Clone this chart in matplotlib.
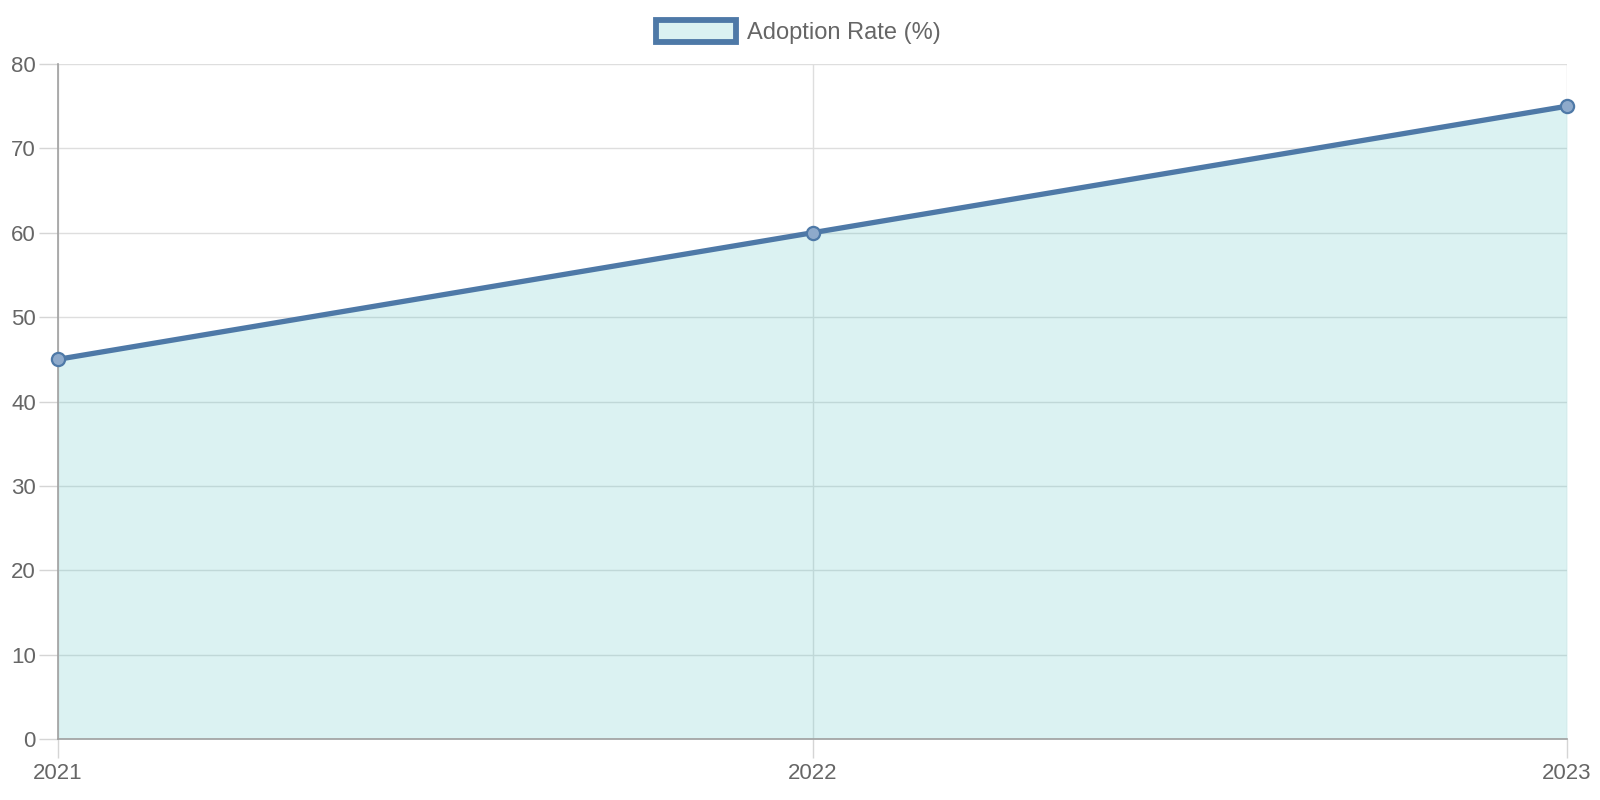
import numpy as np
import matplotlib.pyplot as plt
from matplotlib.patches import Patch

# data
years = ["2021", "2022", "2023"]
adoption = [45, 60, 75]
y_ticks = [0, 10, 20, 30, 40, 50, 60, 70, 80]

line_col = "#4e79a7"
fill_rgba = (75/255, 192/255, 192/255, 0.2)
grid_col = "#dedede"
text_col = "#666666"

plt.rcParams['font.family'] = ['Liberation Sans', 'DejaVu Sans']

fig = plt.figure(figsize=(16, 8), dpi=100)
# plot area in pixels: x 58..1567, y 64..739
ax = fig.add_axes([58/1600, 61/800, 1509/1600, 675/800])

x = np.arange(len(years))
ax.fill_between(x, 0, adoption, color=fill_rgba, lw=0, zorder=2)
ax.plot(x, adoption, color=line_col, lw=3.8, zorder=3, solid_capstyle='round')
ax.plot(x, adoption, 'o', ms=9.5, mfc="#8eaacb", mec=line_col, mew=1.6, zorder=4,
        clip_on=False)

ax.set_xlim(0, len(years)-1)
ax.set_ylim(0, 80)
ax.set_xticks(x)
ax.set_xticklabels(years)
ax.set_yticks(y_ticks)

ax.grid(True, color=grid_col, lw=1, zorder=0)
ax.set_axisbelow(True)
for s in ["top", "right"]:
    ax.spines[s].set_visible(False)
for s in ["left", "bottom"]:
    ax.spines[s].set_color("#a0a0a0")
    ax.spines[s].set_linewidth(1.2)
ax.tick_params(axis='both', colors="#d5d5d5", labelcolor=text_col, labelsize=16,
               length=14, width=1, pad=2)
ax.tick_params(axis='x', pad=3)

handle = Patch(facecolor=fill_rgba, edgecolor=line_col, linewidth=4.2, label="Adoption Rate (%)")
fig.legend(handles=[handle], loc="center", bbox_to_anchor=(0.499, 0.96), frameon=False,
           fontsize=17, labelcolor=text_col, handlelength=3.4, handleheight=1.02,
           handletextpad=0.45)

fig.savefig("out.png", dpi=100)
